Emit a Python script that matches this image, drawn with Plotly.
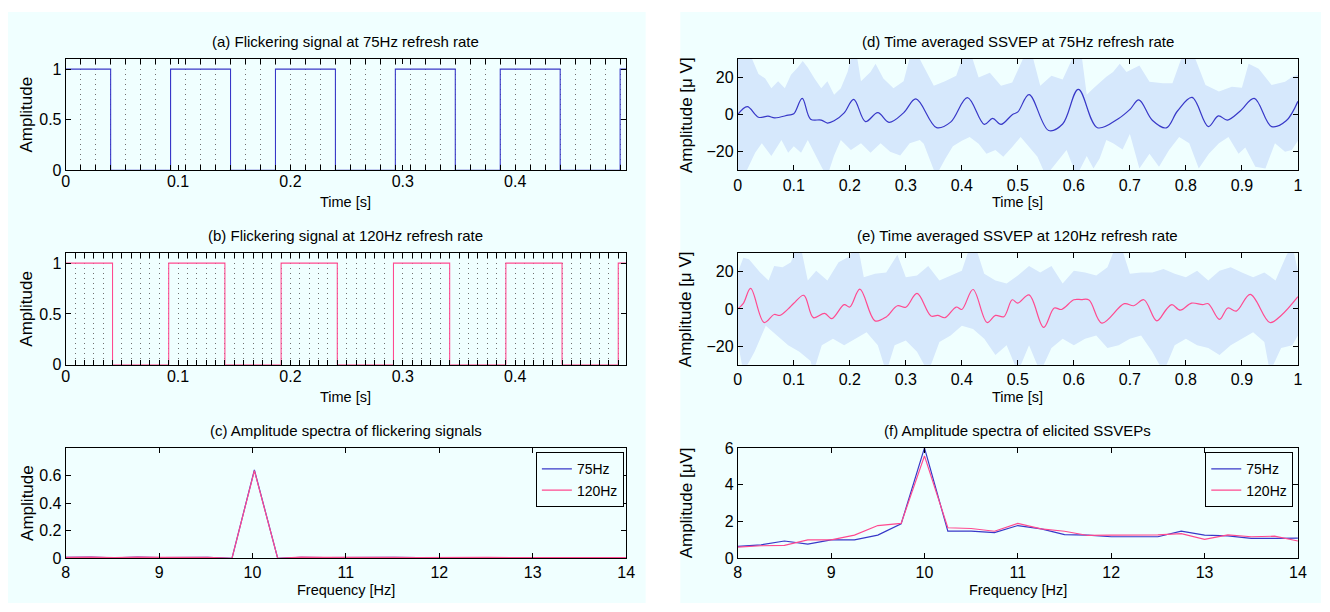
import plotly.graph_objects as go

W, H = 1330, 612
BG = '#f0ffff'
BAND = '#d6e8fc'
BLUE = '#3838c8'
PINK = '#ff4a90'
FONT = 'Arial, Liberation Sans, sans-serif'

# ---------------- data ----------------
refresh_75 = 75
refresh_120 = 120
signal_duration = 0.4987  # s
# on/off state of each display frame (10 Hz flicker)
frame_states_75 = [1, 1, 1, 0, 0, 0, 0, 1, 1, 1, 1, 0, 0, 0, 1, 1, 1, 1, 0, 0, 0, 0, 1, 1, 1, 1, 0, 0, 0,
                   1, 1, 1, 1, 0, 0, 0, 0, 1]
frame_states_120 = [1, 1, 1, 1, 1, 0, 0, 0, 0, 0, 0, 1, 1, 1, 1, 1, 1, 0, 0, 0, 0, 0, 0, 1, 1, 1, 1, 1, 1,
                    0, 0, 0, 0, 0, 0, 1, 1, 1, 1, 1, 1, 0, 0, 0, 0, 0, 0, 1, 1, 1, 1, 1, 1, 0, 0, 0, 0, 0, 0,
                    1]

freq_flicker = [8.0, 8.27, 8.52, 8.77, 9.02, 9.27, 9.52, 9.78, 10.02, 10.27, 10.52, 10.77, 11.02, 11.27,
                11.52, 11.77, 12.02, 12.27, 12.52, 12.77, 13.02, 13.27, 13.52, 13.77, 14.0]
flicker_spec_75 = [0.006, 0.008, 0.004, 0.008, 0.005, 0.007, 0.006, 0.0, 0.64, 0.0, 0.007, 0.005, 0.007,
                   0.004, 0.006, 0.005, 0.006, 0.004, 0.006, 0.004, 0.005, 0.004, 0.005, 0.004, 0.004]
flicker_spec_120 = [0.007, 0.009, 0.005, 0.009, 0.006, 0.008, 0.006, 0.0, 0.635, 0.0, 0.008, 0.006, 0.008,
                    0.005, 0.007, 0.005, 0.007, 0.005, 0.007, 0.005, 0.006, 0.005, 0.006, 0.005, 0.005]

freq_ssvep = [8.0, 8.25, 8.5, 8.75, 9.0, 9.25, 9.5, 9.75, 10.0, 10.25, 10.5, 10.75, 11.0, 11.25, 11.5,
              11.75, 12.0, 12.25, 12.5, 12.75, 13.0, 13.25, 13.5, 13.75, 14.0]
ssvep_spec_75 = [0.65, 0.73, 0.94, 0.77, 1.0, 1.0, 1.26, 1.87, 6.0, 1.48, 1.48, 1.4, 1.78, 1.6, 1.29,
                 1.26, 1.17, 1.17, 1.17, 1.48, 1.26, 1.22, 1.08, 1.08, 1.1]
ssvep_spec_120 = [0.61, 0.68, 0.7, 1.0, 1.0, 1.26, 1.78, 1.9, 5.57, 1.66, 1.62, 1.47, 1.9, 1.6, 1.47,
                  1.24, 1.26, 1.27, 1.27, 1.34, 1.03, 1.27, 1.17, 1.2, 0.94]

# (time [s], amplitude [uV])
ssvep75_mean = [(0, 0), (0.017, 4.3), (0.037, -1.4), (0.054, -0.8), (0.066, -1.7), (0.09, -0.2), (0.1, 0.5),
                (0.115, 8.8), (0.13, -2.4), (0.149, -2.9), (0.16, -4.5), (0.172, -3.3), (0.19, 1),
                (0.207, 8.3), (0.228, -3.7), (0.25, 1.1), (0.27, -4.1), (0.296, 1), (0.318, 8.5),
                (0.355, -7), (0.38, -4), (0.41, 9.2), (0.44, -5.2), (0.455, -2), (0.47, -5.2), (0.49, 0),
                (0.5, 1.5), (0.52, 10.8), (0.555, -8.5), (0.58, -5), (0.608, 13.7), (0.642, -7.0),
                (0.68, -2), (0.7, 2.8), (0.716, 8.0), (0.74, -3), (0.765, -7.1), (0.785, 2.0),
                (0.811, 9.3), (0.84, -6.4), (0.858, -0.6), (0.874, -2.9), (0.897, 2.0), (0.922, 8.8),
                (0.953, -6.4), (0.979, -3.3), (1.0, 7.2)]
ssvep75_upper = [(0, 34), (0.01, 36), (0.02, 34), (0.028, 28), (0.037, 22), (0.049, 19.5), (0.06, 14.3),
                 (0.072, 18), (0.084, 14.3), (0.095, 21.5), (0.107, 25.4), (0.116, 29), (0.125, 25.4),
                 (0.137, 19.5), (0.149, 14.3), (0.16, 18), (0.172, 10.8), (0.184, 14.3), (0.196, 23),
                 (0.205, 34), (0.212, 33), (0.22, 18), (0.237, 23), (0.246, 27.4), (0.26, 19.5),
                 (0.278, 14.3), (0.296, 18), (0.31, 34), (0.32, 33), (0.33, 27), (0.35, 15.6), (0.37, 18),
                 (0.39, 21), (0.405, 34), (0.415, 34), (0.43, 20), (0.45, 22.6), (0.47, 15.6), (0.49, 17.4),
                 (0.515, 34), (0.525, 33), (0.54, 15.6), (0.56, 21), (0.58, 19), (0.603, 34), (0.613, 34),
                 (0.623, 10.8), (0.635, 14.3), (0.658, 20.4), (0.67, 23), (0.682, 27.4), (0.694, 23),
                 (0.717, 26.5), (0.735, 17.8), (0.759, 16.9), (0.776, 17), (0.795, 33), (0.805, 34),
                 (0.817, 30), (0.835, 16), (0.859, 12.5), (0.882, 15), (0.9, 14.5), (0.912, 27.4),
                 (0.93, 24.7), (0.953, 16), (0.977, 17.8), (0.99, 20.4), (1.0, 21.5)]
ssvep75_lower = [(0, -34), (0.01, -34), (0.02, -28), (0.031, -20.5), (0.043, -15.4), (0.06, -22.3),
                 (0.078, -13.6), (0.09, -20.5), (0.1, -17), (0.113, -20.5), (0.125, -13.6), (0.137, -20.5),
                 (0.151, -29), (0.16, -33), (0.172, -22), (0.184, -13.6), (0.202, -19), (0.22, -15.4),
                 (0.237, -20.5), (0.255, -15.4), (0.272, -20), (0.29, -22), (0.307, -15.4), (0.325, -13.6),
                 (0.332, -15.6), (0.354, -33), (0.37, -24), (0.384, -17), (0.4, -14), (0.414, -12),
                 (0.43, -15.6), (0.444, -21), (0.46, -19), (0.474, -22.6), (0.49, -17.4), (0.505, -12),
                 (0.52, -17.4), (0.535, -22.6), (0.55, -33), (0.568, -26), (0.587, -19), (0.605, -33),
                 (0.623, -22.3), (0.635, -29), (0.646, -23.6), (0.658, -13.6), (0.67, -15.4),
                 (0.687, -18.8), (0.7, -10.4), (0.717, -29), (0.735, -21), (0.752, -28), (0.77, -19),
                 (0.788, -12), (0.806, -15.4), (0.823, -29), (0.841, -21), (0.859, -15.4), (0.876, -12),
                 (0.894, -21), (0.906, -17.7), (0.924, -28), (0.942, -29), (0.959, -15.4), (0.977, -20),
                 (0.989, -19), (1.0, -14)]

ssvep120_mean = [(0, 0), (0.01, 3), (0.023, 11), (0.047, -7.3), (0.065, -3), (0.075, -3.5), (0.09, 0),
                 (0.1, 3), (0.118, 7.3), (0.135, -4.7), (0.155, -2.4), (0.168, -5.2), (0.19, 2.3), (0.2, 1),
                 (0.218, 10.6), (0.245, -6.4), (0.265, -4.3), (0.285, 1.7), (0.3, 0.9), (0.32, 8.3),
                 (0.345, -3.8), (0.357, -3.5), (0.37, -4.7), (0.39, 1), (0.4, -0.3), (0.42, 10.4),
                 (0.445, -7.3), (0.46, -3.5), (0.475, -4.2), (0.49, 4.9), (0.5, 3.1), (0.52, 7.5),
                 (0.546, -9.9), (0.565, 0.5), (0.578, -0.3), (0.6, 4.9), (0.613, 5.0), (0.627, 4.8),
                 (0.65, -7.6), (0.69, 2.8), (0.707, 1.7), (0.725, 4.9), (0.748, -6.4), (0.765, -0.3),
                 (0.775, 2.3), (0.79, -0.7), (0.81, 3.1), (0.83, 2.3), (0.84, 2.8), (0.86, -5.6),
                 (0.875, 0.5), (0.89, -1.2), (0.915, 7.8), (0.95, -7.3), (0.97, -3.5), (1.0, 6.6)]
ssvep120_upper = [(0, 19.6), (0.01, 27.5), (0.02, 26.6), (0.04, 19.6), (0.055, 15.3), (0.065, 23),
                  (0.08, 22.3), (0.095, 25), (0.105, 34), (0.112, 34), (0.125, 15.3), (0.14, 20.5),
                  (0.16, 15.3), (0.18, 25), (0.2, 28.3), (0.208, 34), (0.215, 33), (0.225, 17),
                  (0.245, 18.8), (0.265, 19.6), (0.285, 29), (0.3, 17), (0.32, 17.9), (0.34, 23),
                  (0.36, 15.3), (0.38, 17.9), (0.4, 20.5), (0.415, 34), (0.425, 33), (0.44, 18.8),
                  (0.46, 15.3), (0.48, 13.6), (0.5, 17.9), (0.52, 23), (0.54, 19.6), (0.56, 23),
                  (0.58, 13.6), (0.6, 20.5), (0.62, 19.6), (0.64, 17.9), (0.66, 22.3), (0.675, 34),
                  (0.685, 33), (0.7, 18.8), (0.72, 19.6), (0.74, 19.6), (0.76, 21.4), (0.78, 18.8),
                  (0.8, 17), (0.82, 20.5), (0.84, 15.3), (0.86, 20.5), (0.88, 22.3), (0.9, 19.6),
                  (0.92, 17), (0.94, 19.6), (0.96, 15.3), (0.98, 29), (0.99, 34), (1.0, 20.5)]
ssvep120_lower = [(0, -17.7), (0.01, -34), (0.03, -23), (0.05, -9), (0.07, -14.3), (0.09, -19.5),
                  (0.11, -23), (0.13, -28), (0.135, -34), (0.15, -19.5), (0.17, -16), (0.19, -19.5),
                  (0.21, -16), (0.23, -12.5), (0.25, -19.5), (0.265, -34), (0.28, -19.5), (0.3, -16.9),
                  (0.32, -23), (0.34, -34), (0.36, -17.7), (0.38, -14.3), (0.4, -9), (0.42, -10.8),
                  (0.44, -16), (0.46, -24.7), (0.48, -19.5), (0.5, -34), (0.52, -19.5), (0.54, -34),
                  (0.56, -21), (0.58, -16), (0.6, -19.5), (0.62, -16), (0.64, -14.3), (0.66, -21),
                  (0.68, -19.5), (0.7, -16), (0.72, -14.3), (0.74, -23), (0.76, -34), (0.78, -19.5),
                  (0.8, -16), (0.82, -19.5), (0.84, -21), (0.86, -24.7), (0.88, -19.5), (0.9, -16),
                  (0.92, -12.5), (0.94, -17.7), (0.95, -34), (0.97, -21), (0.99, -19.5), (1.0, -14.3)]

titles = ['(a) Flickering signal at 75Hz refresh rate',
          '(b) Flickering signal at 120Hz refresh rate',
          '(c) Amplitude spectra of flickering signals',
          '(d) Time averaged SSVEP at 75Hz refresh rate',
          '(e) Time averaged SSVEP at 120Hz refresh rate',
          '(f) Amplitude spectra of elicited SSVEPs']
legend_names = ['75Hz', '120Hz']

# ---------------- layout geometry (pixels) ----------------
LEFT = (62.3, 628.3)
RIGHT = (741.0, 1306.7)
ROWS = [(52.5, 167.0), (252.0, 367.0), (452.5, 566.0)]


def fx(p):
    return p / W


def fy(p):
    return 1 - p / H


def xdom(c):
    return [fx(c[0]), fx(c[1])]


def ydom(r):
    return [fy(r[1]), fy(r[0])]


fig = go.Figure()


def step_xy(states, rate):
    xs = [k / rate for k in range(len(states))] + [signal_duration]
    ys = list(states) + [states[-1]]
    return xs, ys


# (a) and (b)
for i, (states, rate, col) in enumerate([(frame_states_75, refresh_75, BLUE),
                                         (frame_states_120, refresh_120, PINK)]):
    xs, ys = step_xy(states, rate)
    ax = str(i + 1)
    fig.add_trace(go.Scatter(x=xs, y=ys, mode='lines', line=dict(color=col, width=1.1, shape='hv'),
                             xaxis='x' + ax, yaxis='y' + ax, showlegend=False, hoverinfo='skip'))
    # empty trace registering the label overlay axis
    fig.add_trace(go.Scatter(x=[], y=[], xaxis='x' + str(7 + i), yaxis='y' + ax, showlegend=False))

# (c)
fig.add_trace(go.Scatter(x=freq_flicker, y=flicker_spec_75, mode='lines', name=legend_names[0],
                         line=dict(color=BLUE, width=1.2), xaxis='x3', yaxis='y3', legend='legend'))
fig.add_trace(go.Scatter(x=freq_flicker, y=flicker_spec_120, mode='lines', name=legend_names[1],
                         line=dict(color=PINK, width=1.2), xaxis='x3', yaxis='y3', legend='legend'))

# (d) and (e)
for i, (mean, up, lo, col) in enumerate([(ssvep75_mean, ssvep75_upper, ssvep75_lower, BLUE),
                                         (ssvep120_mean, ssvep120_upper, ssvep120_lower, PINK)]):
    ax = str(4 + i)
    bx = [p[0] for p in up] + [p[0] for p in lo][::-1]
    by = [p[1] for p in up] + [p[1] for p in lo][::-1]
    fig.add_trace(go.Scatter(x=bx, y=by, mode='lines', fill='toself', fillcolor=BAND,
                             line=dict(width=0, color=BAND), xaxis='x' + ax, yaxis='y' + ax,
                             showlegend=False, hoverinfo='skip'))
    fig.add_trace(go.Scatter(x=[p[0] for p in mean], y=[p[1] for p in mean], mode='lines',
                             line=dict(color=col, width=1.2, shape='spline', smoothing=1.0),
                             xaxis='x' + ax, yaxis='y' + ax, showlegend=False, hoverinfo='skip'))

# (f)
fig.add_trace(go.Scatter(x=freq_ssvep, y=ssvep_spec_75, mode='lines', name=legend_names[0],
                         line=dict(color=BLUE, width=1.2), xaxis='x6', yaxis='y6', legend='legend2'))
fig.add_trace(go.Scatter(x=freq_ssvep, y=ssvep_spec_120, mode='lines', name=legend_names[1],
                         line=dict(color=PINK, width=1.2), xaxis='x6', yaxis='y6', legend='legend2'))

tickfont = dict(family=FONT, size=16, color='black')


def base_axis(**kw):
    d = dict(showline=True, linecolor='black', linewidth=1, mirror='ticks', ticks='inside', ticklen=5,
             tickwidth=1, tickcolor='black', showgrid=False, zeroline=False, tickfont=tickfont,
             fixedrange=True)
    d.update(kw)
    return d


layout_axes = {}
# frame-grid axes (a), (b)
for i, rate in enumerate([refresh_75, refresh_120]):
    n = i + 1
    layout_axes['xaxis' if n == 1 else 'xaxis%d' % n] = base_axis(
        domain=xdom(LEFT), anchor='y%d' % n, range=[0, signal_duration], tick0=0, dtick=1 / rate,
        showticklabels=False, showgrid=True, gridcolor='#707070', gridwidth=1, griddash='1px,4px')
    layout_axes['xaxis%d' % (7 + i)] = dict(
        overlaying='x' if n == 1 else 'x%d' % n, anchor='y%d' % n, range=[0, signal_duration],
        tickvals=[0, 0.1, 0.2, 0.3, 0.4], ticktext=['0', '0.1', '0.2', '0.3', '0.4'],
        ticks='inside', ticklen=5, tickcolor='black', mirror='ticks', showline=False, showgrid=False,
        zeroline=False, tickfont=tickfont, fixedrange=True)
    layout_axes['yaxis' if n == 1 else 'yaxis%d' % n] = base_axis(
        domain=ydom(ROWS[i]), anchor='x' if n == 1 else 'x%d' % n, range=[0, 1.1],
        tickvals=[0, 0.5, 1], ticktext=['0', '0.5', '1'])

layout_axes['xaxis3'] = base_axis(domain=xdom(LEFT), anchor='y3', range=[8, 14], dtick=1, tick0=8)
layout_axes['yaxis3'] = base_axis(domain=ydom(ROWS[2]), anchor='x3', range=[0, 0.8],
                                  tickvals=[0, 0.2, 0.4, 0.6], ticktext=['0', '0.2', '0.4', '0.6'])
for i in range(2):
    n = 4 + i
    layout_axes['xaxis%d' % n] = base_axis(
        domain=xdom(RIGHT), anchor='y%d' % n, range=[0, 1],
        tickvals=[k / 10 for k in range(11)],
        ticktext=['0', '0.1', '0.2', '0.3', '0.4', '0.5', '0.6', '0.7', '0.8', '0.9', '1'])
    layout_axes['yaxis%d' % n] = base_axis(domain=ydom(ROWS[i]), anchor='x%d' % n, range=[-30, 30],
                                           tickvals=[-20, 0, 20], ticktext=['\u221220', '0', '20'])
layout_axes['xaxis6'] = base_axis(domain=xdom(RIGHT), anchor='y6', range=[8, 14], dtick=1, tick0=8)
layout_axes['yaxis6'] = base_axis(domain=ydom(ROWS[2]), anchor='x6', range=[0, 6],
                                  tickvals=[0, 2, 4, 6], ticktext=['0', '2', '4', '6'])

annotations = []
cols = [LEFT, LEFT, LEFT, RIGHT, RIGHT, RIGHT]
rows = [0, 1, 2, 0, 1, 2]
xlabels = ['Time [s]', 'Time [s]', 'Frequency [Hz]', 'Time [s]', 'Time [s]', 'Frequency [Hz]']
ylabels = ['Amplitude', 'Amplitude', 'Amplitude', 'Amplitude [\u03bc V]', 'Amplitude [\u03bc V]',
           'Amplitude [\u03bcV]']
ylab_x = {id(LEFT): 23, id(RIGHT): 689}
for k in range(6):
    c = cols[k]
    r = ROWS[rows[k]]
    cx = (c[0] + c[1]) / 2
    annotations.append(dict(text=titles[k], x=fx(cx), y=fy(r[0] - 18), xref='paper', yref='paper',
                            xanchor='center', yanchor='middle', showarrow=False,
                            font=dict(family=FONT, size=15, color='black')))
    annotations.append(dict(text=xlabels[k], x=fx(cx), y=fy(r[1] + 33), xref='paper', yref='paper',
                            xanchor='center', yanchor='middle', showarrow=False,
                            font=dict(family=FONT, size=14.5, color='black')))
    annotations.append(dict(text=ylabels[k], x=fx(ylab_x[id(c)]), y=fy((r[0] + r[1]) / 2), xref='paper',
                            yref='paper', xanchor='center', yanchor='middle', textangle=-90,
                            showarrow=False, font=dict(family=FONT, size=17, color='black')))

shapes = [
    dict(type='rect', xref='paper', yref='paper', x0=fx(4), x1=fx(648), y0=0, y1=fy(4), fillcolor=BG,
         line=dict(width=0), layer='below'),
    dict(type='rect', xref='paper', yref='paper', x0=fx(683), x1=1, y0=0, y1=fy(4), fillcolor=BG,
         line=dict(width=0), layer='below'),
]

legend_style = dict(bgcolor=BG, bordercolor='black', borderwidth=1, font=dict(family=FONT, size=14,
                                                                                 color='black'),
                    xanchor='right', yanchor='top', tracegroupgap=0, itemwidth=30, yref='paper', xref='paper')

fig.update_layout(
    width=W, height=H, margin=dict(l=0, r=0, t=0, b=0), autosize=False,
    paper_bgcolor='white', plot_bgcolor=BG, font=dict(family=FONT, color='black'),
    annotations=annotations, shapes=shapes, hovermode=False,
    legend=dict(legend_style, x=fx(626), y=fy(457)),
    legend2=dict(legend_style, x=fx(1302), y=fy(457)),
    **layout_axes,
)

fig.write_html('out.html', config={'displayModeBar': False, 'staticPlot': True},
               post_script="document.body.style.margin='0px';document.body.style.overflow='hidden';")
